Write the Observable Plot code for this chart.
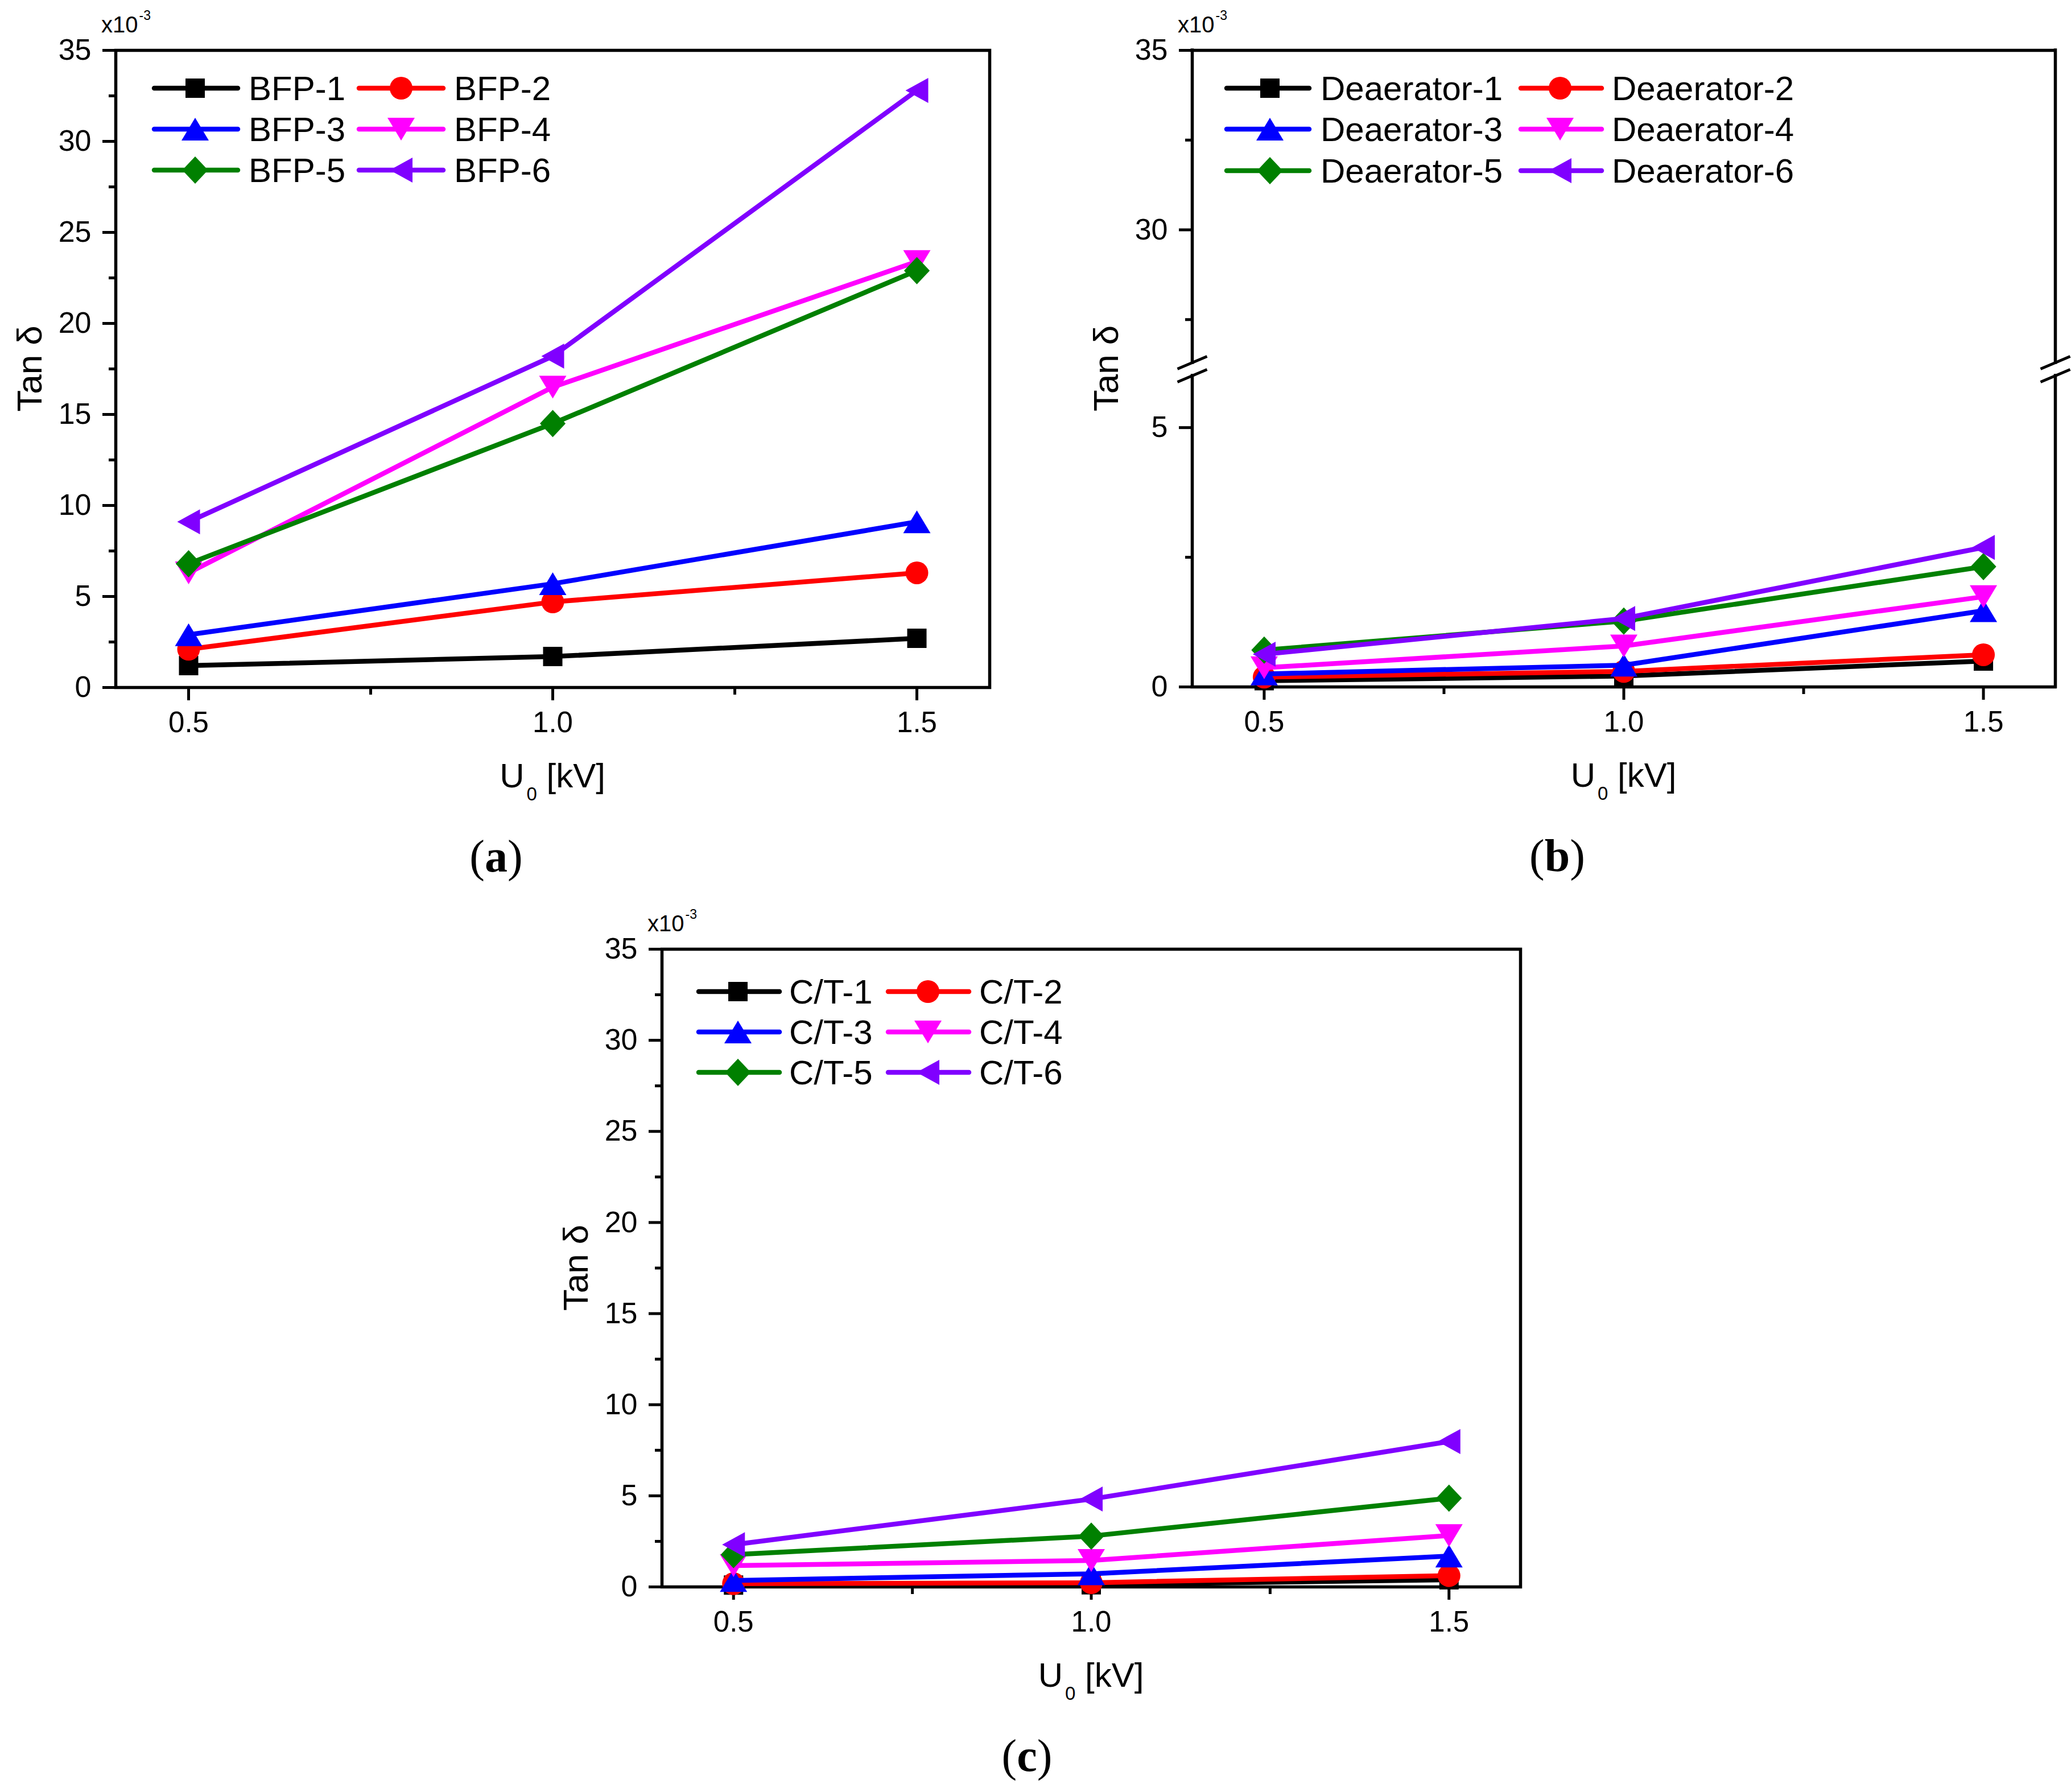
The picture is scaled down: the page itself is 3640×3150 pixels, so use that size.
<!DOCTYPE html>
<html>
<head>
<meta charset="utf-8">
<script src="https://cdn.jsdelivr.net/npm/d3@7"></script>
<script src="https://cdn.jsdelivr.net/npm/@observablehq/plot@0.6"></script>
<style>
  body { margin: 0; background: #fff; }
  #page { position: relative; width: 3640px; height: 3150px; background: #fff; }
  .panel { position: absolute; }
</style>
</head>
<body>
<div id="page"></div>
<script>
// test voltage U0 [kV]
const voltage = [0.5, 1.0, 1.5];

// tan delta (x10^-3), panel (a) boiler feed pumps
const bfp1 = [1.2, 1.7, 2.7];
const bfp2 = [2.1, 4.7, 6.3];
const bfp3 = [2.9, 5.7, 9.1];
const bfp4 = [6.3, 16.5, 23.4];
const bfp5 = [6.8, 14.5, 22.9];
const bfp6 = [9.1, 18.2, 32.8];

// panel (b) deaerator
const dea1 = [0.12, 0.21, 0.50];
const dea2 = [0.19, 0.30, 0.62];
const dea3 = [0.25, 0.42, 1.47];
const dea4 = [0.37, 0.79, 1.74];
const dea5 = [0.71, 1.27, 2.32];
const dea6 = [0.63, 1.32, 2.69];

// panel (c) C/T
const ct1 = [0.10, 0.12, 0.39];
const ct2 = [0.18, 0.23, 0.62];
const ct3 = [0.35, 0.72, 1.69];
const ct4 = [1.17, 1.45, 2.82];
const ct5 = [1.77, 2.79, 4.87];
const ct6 = [2.32, 4.82, 7.98];

const bfpNames = ["BFP-1", "BFP-2", "BFP-3", "BFP-4", "BFP-5", "BFP-6"];
const deaNames = ["Deaerator-1", "Deaerator-2", "Deaerator-3", "Deaerator-4", "Deaerator-5", "Deaerator-6"];
const ctNames = ["C/T-1", "C/T-2", "C/T-3", "C/T-4", "C/T-5", "C/T-6"];

const xTicks = [0.5, 1.0, 1.5];
const xMinor = [0.75, 1.25];
const yTicksFull = [0, 5, 10, 15, 20, 25, 30, 35];
const yMinorFull = [2.5, 7.5, 12.5, 17.5, 22.5, 27.5, 32.5];
const yTicksBroken = [0, 5, 30, 35];
const yMinorBroken = [2.5, 27.5, 32.5];

const colors = ["#000000", "#ff0000", "#0000ff", "#ff00ff", "#008000", "#8000ff"];

// Origin-like marker shapes
const mk = (f) => ({draw(ctx, size) { f(ctx, Math.sqrt(size / Math.PI)); }});
const poly = (pts) => mk((c, r) => {
  pts.forEach(([a, b], i) => i ? c.lineTo(a * r, b * r) : c.moveTo(a * r, b * r));
  c.closePath();
});
const symSquare = poly([[-0.85, -0.85], [0.85, -0.85], [0.85, 0.85], [-0.85, 0.85]]);
const symCircle = mk((c, r) => { c.moveTo(r, 0); c.arc(0, 0, r, 0, 2 * Math.PI); });
const symUp = poly([[0, -1], [1.2, 1], [-1.2, 1]]);
const symDown = poly([[0, 1], [1.2, -1], [-1.2, -1]]);
const symDiamond = poly([[0, -1.2], [1.13, 0], [0, 1.2], [-1.13, 0]]);
const symLeft = poly([[-1, 0], [1, -1.1], [1, 1.1]]);
const symBreak = mk((c, r) => { c.moveTo(-1.3 * r, 0.55 * r); c.lineTo(1.3 * r, -0.55 * r); });
const symbols = [symSquare, symCircle, symUp, symDown, symDiamond, symLeft];

const font = '"Liberation Sans", Arial, sans-serif';

function drawPanel(p) {
  const W = p.width - p.marginLeft - p.marginRight;
  const H = p.height - p.marginTop - p.marginBottom;
  const marks = [];

  if (p.broken) {
    // frame with a gap where the axis is broken
    marks.push(Plot.ruleX([0.4, 1.6], {y1: 0, y2: 6, strokeWidth: 5.5, strokeLinecap: "square"}));
    marks.push(Plot.ruleX([0.4, 1.6], {y1: 26.3, y2: 35, strokeWidth: 5.5, strokeLinecap: "square"}));
    marks.push(Plot.ruleY([0, 35], {strokeWidth: 5.5, strokeLinecap: "square"}));
    const breaks = [];
    for (const bx of [0.4, 1.6]) for (const by of [6, 26.3]) breaks.push({bx, by});
    marks.push(Plot.dot(breaks, {x: "bx", y: "by", r: 20, symbol: symBreak, fill: "none", stroke: "black", strokeWidth: 5}));
  } else {
    marks.push(Plot.frame({strokeWidth: 5.5}));
  }

  marks.push(
    Plot.axisX({anchor: "bottom", ticks: xTicks, tickFormat: d3.format(".1f"), tickSize: 23, tickPadding: 19, strokeWidth: 5, fontSize: 51, label: null}),
    Plot.axisX({anchor: "bottom", ticks: xMinor, tickSize: 13, strokeWidth: 5, fill: "none", label: null}),
    Plot.axisY({anchor: "left", ticks: p.yTicks, tickSize: 23, tickPadding: 20, strokeWidth: 5, fontSize: 52, label: null}),
    Plot.axisY({anchor: "left", ticks: p.yMinor, tickSize: 12, strokeWidth: 5, fill: "none", label: null})
  );

  p.values.forEach((vals, i) => {
    const rows = voltage.map((u, j) => ({u, tan: vals[j]}));
    marks.push(Plot.line(rows, {x: "u", y: "tan", stroke: colors[i], strokeWidth: 8.5, strokeLinejoin: "round"}));
    marks.push(Plot.dot(rows, {x: "u", y: "tan", r: 20, symbol: symbols[i], fill: colors[i], stroke: "none"}));
  });

  const chart = Plot.plot({
    width: p.width,
    height: p.height,
    marginLeft: p.marginLeft,
    marginRight: p.marginRight,
    marginTop: p.marginTop,
    marginBottom: p.marginBottom,
    style: {background: "transparent", fontFamily: font, fontSize: "51px", color: "black", overflow: "visible"},
    x: {domain: [0.4, 1.6]},
    y: p.y,
    marks
  });

  const svg = d3.select(chart);

  // legend inside the frame
  const lg = svg.append("g").attr("transform", `translate(${p.marginLeft},${p.marginTop})`);
  p.names.forEach((name, i) => {
    const col = p.legendCols[i % 2];
    const yy = p.legendRows[Math.floor(i / 2)];
    lg.append("line").attr("x1", col.x1).attr("x2", col.x2).attr("y1", yy).attr("y2", yy)
      .attr("stroke", colors[i]).attr("stroke-width", 8.5).attr("stroke-linecap", "round");
    lg.append("path").attr("d", d3.symbol(symbols[i], 400 * Math.PI)())
      .attr("transform", `translate(${col.m},${yy})`).attr("fill", colors[i]);
    lg.append("text").attr("x", col.t).attr("y", yy + 21).attr("text-anchor", "start")
      .attr("font-family", font).attr("font-size", 60).attr("fill", "black").text(name);
  });

  // x10^-3 multiplier
  const mult = svg.append("text").attr("x", p.marginLeft - 25).attr("y", p.marginTop - 31)
    .attr("text-anchor", "start").attr("font-family", font).attr("font-size", 40).attr("fill", "black");
  mult.append("tspan").text("x10");
  mult.append("tspan").attr("font-size", 23).attr("dx", 2).attr("dy", -22).text("-3");

  // y axis title
  svg.append("text")
    .attr("transform", `translate(${p.marginLeft - 152},${p.marginTop + H / 2}) rotate(-90)`)
    .attr("text-anchor", "middle").attr("dy", "0.36em")
    .attr("font-family", font).attr("font-size", 62).attr("fill", "black").text("Tan δ");

  // x axis title U0 [kV]
  const xt = svg.append("text").attr("x", p.marginLeft + W / 2).attr("y", p.marginTop + H + 176)
    .attr("text-anchor", "middle").attr("font-family", font).attr("font-size", 60).attr("fill", "black");
  xt.append("tspan").text("U");
  xt.append("tspan").attr("font-size", 33).attr("dx", 4).attr("dy", 23).text("0");
  xt.append("tspan").attr("dy", -23).text(" [kV]");

  // panel letter
  const lt = svg.append("text").attr("x", p.letterX).attr("y", p.marginTop + H + 324)
    .attr("text-anchor", "middle").attr("font-family", '"Liberation Serif", "DejaVu Serif", serif')
    .attr("font-size", 80).attr("fill", "black");
  lt.append("tspan").text("(");
  lt.append("tspan").attr("font-weight", "bold").text(p.letter);
  lt.append("tspan").text(")");

  const div = d3.select("#page").append("div").attr("class", "panel")
    .style("left", p.left + "px").style("top", p.top + "px");
  div.append(() => chart);
}

drawPanel({
  left: 0, top: 0, width: 1820, height: 1560,
  marginLeft: 203, marginRight: 81, marginTop: 88, marginBottom: 352,
  y: {domain: [0, 35]},
  yTicks: yTicksFull, yMinor: yMinorFull,
  values: [bfp1, bfp2, bfp3, bfp4, bfp5, bfp6], names: bfpNames,
  legendRows: [67, 139, 211],
  legendCols: [{x1: 68, x2: 215, m: 140, t: 234}, {x1: 428, x2: 576, m: 502, t: 595}],
  letter: "a", letterX: 872
});

drawPanel({
  left: 1820, top: 0, width: 1820, height: 1560,
  marginLeft: 275, marginRight: 28, marginTop: 88, marginBottom: 353,
  broken: true,
  y: {type: "linear", domain: [0, 6, 26.3, 35], range: [1207, 660, 637, 88]},
  yTicks: yTicksBroken, yMinor: yMinorBroken,
  values: [dea1, dea2, dea3, dea4, dea5, dea6], names: deaNames,
  legendRows: [67, 139, 212],
  legendCols: [{x1: 61, x2: 206, m: 137, t: 226}, {x1: 578, x2: 720, m: 647, t: 738}],
  letter: "b", letterX: 917
});

drawPanel({
  left: 900, top: 1560, width: 1820, height: 1590,
  marginLeft: 263, marginRight: 48, marginTop: 108, marginBottom: 361,
  y: {domain: [0, 35]},
  yTicks: yTicksFull, yMinor: yMinorFull,
  values: [ct1, ct2, ct3, ct4, ct5, ct6], names: ctNames,
  legendRows: [75, 146, 217],
  legendCols: [{x1: 65, x2: 207, m: 134, t: 224}, {x1: 398, x2: 540, m: 468, t: 558}],
  letter: "c", letterX: 905
});
</script>
</body>
</html>
